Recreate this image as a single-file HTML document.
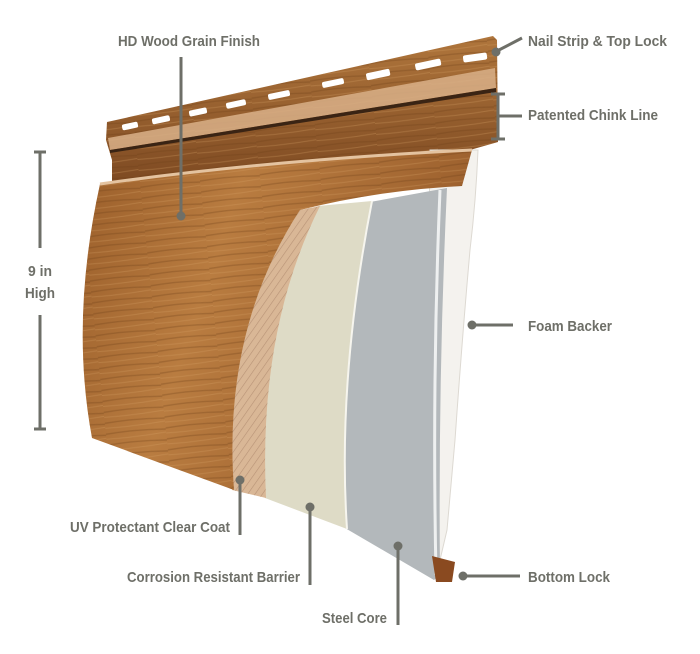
<!DOCTYPE html>
<html><head><meta charset="utf-8"><style>
html,body{margin:0;padding:0;background:#fff;}
svg{display:block}
text{font-family:"Liberation Sans",sans-serif;font-size:15px;fill:#6e6f68;font-weight:bold}
</style></head><body>
<svg width="700" height="654" viewBox="0 0 700 654" xmlns="http://www.w3.org/2000/svg">
<defs>
<linearGradient id="wood" x1="0" y1="0" x2="1" y2="0.3">
<stop offset="0" stop-color="#9a5e2a"/><stop offset="0.4" stop-color="#b97c40"/><stop offset="1" stop-color="#9a5e2c"/>
</linearGradient>
<linearGradient id="top" x1="0" y1="0" x2="0" y2="1">
<stop offset="0" stop-color="#b0763c"/><stop offset="1" stop-color="#7e4a22"/>
</linearGradient>
<pattern id="grain" width="60" height="11" patternUnits="userSpaceOnUse" patternTransform="rotate(-6)">
<path d="M0 3 Q30 1 60 4" stroke="#6e3e18" stroke-width="1.4" fill="none" opacity="0.3"/>
<path d="M0 8 Q30 9 60 7" stroke="#d9a466" stroke-width="1" fill="none" opacity="0.3"/>
</pattern>
<pattern id="hatch" width="6" height="6" patternUnits="userSpaceOnUse" patternTransform="rotate(35)">
<line x1="0" y1="0" x2="0" y2="6" stroke="#a07a60" stroke-width="1.2" opacity="0.6"/>
</pattern>
</defs>

<path d="M107 122 L493 36 L497 40 L498 142 L470 150 L112 182 L112 160 L106 140 Z" fill="url(#top)"/>
<path d="M107 122 L493 36 L497 40 L498 142 L470 150 L112 182 L112 160 L106 140 Z" fill="url(#grain)"/>
<path d="M108 138 L495 68 L496 88 L110 150 Z" fill="#d9b088" opacity="0.85"/>
<path d="M110 150 L496 88 L496 92 L110 153 Z" fill="#3a2414"/>
<g fill="#fff">
<rect x="122" y="123" width="16" height="6" rx="2" transform="rotate(-12 130 126)"/>
<rect x="152" y="117" width="18" height="6" rx="2" transform="rotate(-12 160 120)"/>
<rect x="189" y="109" width="18" height="6" rx="2" transform="rotate(-12 198 112)"/>
<rect x="226" y="101" width="20" height="6" rx="2" transform="rotate(-12 236 104)"/>
<rect x="268" y="92" width="22" height="6" rx="2" transform="rotate(-12 279 95)"/>
<rect x="322" y="80" width="22" height="6" rx="2" transform="rotate(-12 333 83)"/>
<rect x="366" y="71" width="24" height="7" rx="2" transform="rotate(-12 378 74)"/>
<rect x="415" y="61" width="26" height="7" rx="2" transform="rotate(-12 428 64)"/>
<rect x="463" y="54" width="24" height="7" rx="2" transform="rotate(-8 475 57)"/>
</g>

<path d="M440 150 L478 150 Q476 200 470 250 Q462 340 455 440 L447 530 L440 560 L425 565 L430 150 Z" fill="#f4f2ee" stroke="#ddd9d2" stroke-width="1"/>
<path d="M370 202 L447 188 Q438 380 440 575 L434 580 L345 528 Q335 380 370 202 Z" fill="#b3b8bb"/>
<path d="M440 190 Q432 380 436 575" stroke="#eef0f0" stroke-width="3" fill="none"/>
<path d="M318 206 L372 201 Q337 380 347 529 L265 498 Q252 330 318 206 Z" fill="#dedbc6"/>
<path d="M372 201 Q337 380 347 529" stroke="#f6f5ee" stroke-width="2" fill="none"/>
<path d="M300 210 L320 206 Q258 330 266 498 L232 490 Q222 330 300 210 Z" fill="#d9b796"/>
<path d="M300 210 L320 206 Q258 330 266 498 L232 490 Q222 330 300 210 Z" fill="url(#hatch)"/>
<path d="M100 184 Q270 160 472 150 L462 186 Q380 190 300 210 Q222 330 234 490 L92 438 Q70 320 100 184 Z" fill="url(#wood)"/>
<path d="M100 184 Q270 160 472 150 L462 186 Q380 190 300 210 Q222 330 234 490 L92 438 Q70 320 100 184 Z" fill="url(#grain)"/>
<path d="M100 184 Q270 160 472 150" stroke="#e4c3a0" stroke-width="3" fill="none"/>
<path d="M432 556 L455 562 L452 582 L436 582 Z" fill="#8a4a20"/>

<g stroke="#6e6f68" stroke-width="3" fill="none">
<line x1="181" y1="57" x2="181" y2="214"/>
<line x1="497" y1="51" x2="522" y2="38"/>
<line x1="498" y1="94" x2="498" y2="139"/><line x1="491" y1="94" x2="505" y2="94"/><line x1="491" y1="139" x2="505" y2="139"/><line x1="498" y1="116" x2="522" y2="116"/>
<line x1="40" y1="152" x2="40" y2="248"/><line x1="40" y1="315" x2="40" y2="429"/><line x1="34" y1="152" x2="46" y2="152"/><line x1="34" y1="429" x2="46" y2="429"/>
<line x1="472" y1="325" x2="513" y2="325"/>
<line x1="240" y1="480" x2="240" y2="535"/>
<line x1="310" y1="507" x2="310" y2="585"/>
<line x1="398" y1="546" x2="398" y2="625"/>
<line x1="463" y1="576" x2="520" y2="576"/>
</g>
<g fill="#6e6f68">
<circle cx="181" cy="216" r="4.5"/><circle cx="496" cy="52" r="4.5"/><circle cx="472" cy="325" r="4.5"/>
<circle cx="240" cy="480" r="4.5"/><circle cx="310" cy="507" r="4.5"/><circle cx="398" cy="546" r="4.5"/><circle cx="463" cy="576" r="4.5"/>
</g>

<text x="118" y="46" textLength="142" lengthAdjust="spacingAndGlyphs">HD Wood Grain Finish</text>
<text x="528" y="46" textLength="139" lengthAdjust="spacingAndGlyphs">Nail Strip &amp; Top Lock</text>
<text x="528" y="120" textLength="130" lengthAdjust="spacingAndGlyphs">Patented Chink Line</text>
<text x="28" y="276" textLength="24" lengthAdjust="spacingAndGlyphs">9 in</text>
<text x="25" y="298" textLength="30" lengthAdjust="spacingAndGlyphs">High</text>
<text x="528" y="331" textLength="84" lengthAdjust="spacingAndGlyphs">Foam Backer</text>
<text x="70" y="532" textLength="160" lengthAdjust="spacingAndGlyphs">UV Protectant Clear Coat</text>
<text x="127" y="582" textLength="173" lengthAdjust="spacingAndGlyphs">Corrosion Resistant Barrier</text>
<text x="322" y="623" textLength="65" lengthAdjust="spacingAndGlyphs">Steel Core</text>
<text x="528" y="582" textLength="82" lengthAdjust="spacingAndGlyphs">Bottom Lock</text>
</svg>
</body></html>
